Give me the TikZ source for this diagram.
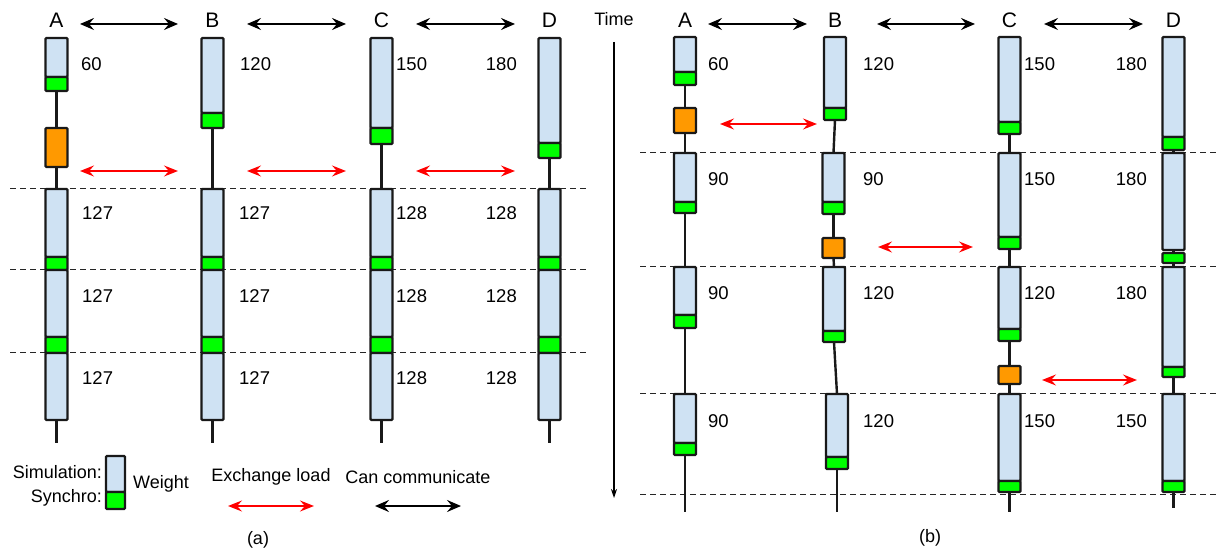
\documentclass[tikz,border=0pt]{standalone}
\usepackage{fontspec}
\setmainfont{Liberation Sans}
\usetikzlibrary{arrows.meta}
\definecolor{simfill}{HTML}{CFE2F3}
\definecolor{syncfill}{HTML}{00FF00}
\definecolor{exfill}{HTML}{FF9900}
\definecolor{exred}{HTML}{FF0000}
\tikzset{
 blk/.style={draw=black!90, line width=2.2pt, rounded corners=1pt, minimum width=22pt, inner sep=0pt, outer sep=0pt, anchor=north},
 sim/.style={blk, fill=simfill},
 syn/.style={blk, fill=syncfill},
 ex/.style={blk, fill=exfill},
 conn/.style={line width=2.4pt, black!90},
 sep/.style={dash pattern=on 6pt off 4pt, line width=1pt, black!85},
 comm/.style={line width=2pt, black, {Stealth[length=14pt,width=12pt,inset=5pt]}-{Stealth[length=14pt,width=12pt,inset=5pt]}},
 xch/.style={line width=1.8pt, exred, {Stealth[length=14pt,width=11pt,inset=5pt]}-{Stealth[length=14pt,width=11pt,inset=5pt]}},
 num/.style={font=\fontsize{18.5}{20}\selectfont, inner sep=0pt},
 proc/.style={font=\fontsize{21}{24}\selectfont, inner sep=0pt},
 leg/.style={font=\fontsize{18}{20}\selectfont, inner sep=0pt},
}
\newcommand\bx[5]{\node[#1, minimum height={#5-#4}] (#2) at (#3,#4) {};}
\begin{document}
\begin{tikzpicture}[x=1pt,y=-1pt]
\useasboundingbox (0,0) rectangle (1219,553);
% ---------------- (a) ----------------
\foreach \y in {189,270,353} \draw[sep] (10,\y) -- (587,\y);
% column A
\coordinate (aAend) at (56.5,443);
\coordinate (aBend) at (212.5,443);
\coordinate (aCend) at (381.5,443);
\coordinate (aDend) at (549.5,443);
\bx{sim}{aA1}{56.5}{38}{77}
\bx{syn}{aA1g}{56.5}{77}{91}
\bx{ex}{aAx}{56.5}{128}{167}
\bx{sim}{aA2}{56.5}{189}{257}
\bx{syn}{aA2g}{56.5}{257}{270}
\bx{sim}{aA3}{56.5}{270}{337}
\bx{syn}{aA3g}{56.5}{337}{353}
\bx{sim}{aA4}{56.5}{353}{420}
\draw[conn] (aA1g.south) -- (aAx.north);
\draw[conn] (aAx.south) -- (aA2.north);
\draw[conn] (aA4.south) -- (aAend);
% column B
\bx{sim}{aB1}{212.5}{38}{113}
\bx{syn}{aB1g}{212.5}{113}{128}
\bx{sim}{aB2}{212.5}{189}{257}
\bx{syn}{aB2g}{212.5}{257}{270}
\bx{sim}{aB3}{212.5}{270}{337}
\bx{syn}{aB3g}{212.5}{337}{353}
\bx{sim}{aB4}{212.5}{353}{420}
\draw[conn] (aB1g.south) -- (aB2.north);
\draw[conn] (aB4.south) -- (aBend);
% column C
\bx{sim}{aC1}{381.5}{38}{128}
\bx{syn}{aC1g}{381.5}{128}{144}
\bx{sim}{aC2}{381.5}{189}{257}
\bx{syn}{aC2g}{381.5}{257}{270}
\bx{sim}{aC3}{381.5}{270}{337}
\bx{syn}{aC3g}{381.5}{337}{353}
\bx{sim}{aC4}{381.5}{353}{420}
\draw[conn] (aC1g.south) -- (aC2.north);
\draw[conn] (aC4.south) -- (aCend);
% column D
\bx{sim}{aD1}{549.5}{38}{143}
\bx{syn}{aD1g}{549.5}{143}{158}
\bx{sim}{aD2}{549.5}{189}{257}
\bx{syn}{aD2g}{549.5}{257}{270}
\bx{sim}{aD3}{549.5}{270}{337}
\bx{syn}{aD3g}{549.5}{337}{353}
\bx{sim}{aD4}{549.5}{353}{420}
\draw[conn] (aD1g.south) -- (aD2.north);
\draw[conn] (aD4.south) -- (aDend);
% labels
\node[proc] (aLA) at (56.5,20) {A};
\node[proc] (aLB) at (212.5,20) {B};
\node[proc] (aLC) at (381.5,20) {C};
\node[proc] (aLD) at (549.5,20) {D};
\coordinate (ac1) at (80,24);  \coordinate (ac2) at (178,24);
\coordinate (ac3) at (247,24); \coordinate (ac4) at (346,24);
\coordinate (ac5) at (416,24); \coordinate (ac6) at (515,24);
\draw[comm] (ac1) -- (ac2); \draw[comm] (ac3) -- (ac4); \draw[comm] (ac5) -- (ac6);
\coordinate (ax1) at (80,171);  \coordinate (ax2) at (178,171);
\coordinate (ax3) at (247,171); \coordinate (ax4) at (346,171);
\coordinate (ax5) at (416,171); \coordinate (ax6) at (515,171);
\draw[xch] (ax1) -- (ax2); \draw[xch] (ax3) -- (ax4); \draw[xch] (ax5) -- (ax6);
\node[num, anchor=west] (aN1) at (81,64) {60};
\node[num, anchor=west] (aN2) at (240,64) {120};
\node[num, anchor=west] (aN3) at (396,64) {150};
\node[num, anchor=east] (aN4) at (517,64) {180};
\foreach \y [count=\i] in {213,296,378} {
  \node[num, anchor=west] (aNA\i) at (82,\y) {127};
  \node[num, anchor=west] (aNB\i) at (239,\y) {127};
  \node[num, anchor=west] (aNC\i) at (396,\y) {128};
  \node[num, anchor=east] (aND\i) at (517,\y) {128};
}
% legend
\node[sim, minimum width=19pt, minimum height=36pt] (lgS) at (115.5,456) {};
\node[syn, minimum width=19pt, minimum height=17pt] (lgG) at (115.5,492) {};
\node[leg, anchor=east] (lgT1) at (102,472) {Simulation:};
\node[leg, anchor=east] (lgT2) at (102,498) {Synchro:};
\node[leg, anchor=west] (lgT3) at (133,484) {Weight};
\node[leg] (lgT4) at (271,477) {Exchange load};
\node[leg] (lgT5) at (418,477) {Can communicate};
\coordinate (lx1) at (228,506); \coordinate (lx2) at (314,506);
\coordinate (lc1) at (375,506); \coordinate (lc2) at (461,506);
\draw[xch] (lx1) -- (lx2);
\draw[comm] (lc1) -- (lc2);
\node[leg] (capA) at (258,540) {(a)};
% ---------------- (b) ----------------
\foreach \y in {153,267,394,494} \draw[sep] (640,\y) -- (1219,\y);
\node[leg] (timeL) at (614,19) {Time};
\coordinate (t1) at (614,42); \coordinate (t2) at (614,498);
\draw[line width=1.1pt, -{Stealth[length=9pt,width=6pt,inset=3pt]}] (t1) -- (t2);
% column A
\coordinate (bAend) at (685,512);
\bx{sim}{bA1}{685}{37}{72}
\bx{syn}{bA1g}{685}{72}{85}
\bx{ex}{bAx}{685}{108}{133}
\bx{sim}{bA2}{685}{153}{202}
\bx{syn}{bA2g}{685}{202}{213}
\bx{sim}{bA3}{685}{267}{315}
\bx{syn}{bA3g}{685}{315}{328}
\bx{sim}{bA4}{685}{394}{443}
\bx{syn}{bA4g}{685}{443}{455}
\draw[conn] (bA1g.south) -- (bAx.north);
\draw[conn] (bAx.south) -- (bA2.north);
\draw[conn] (bA2g.south) -- (bA3.north);
\draw[conn] (bA3g.south) -- (bA4.north);
\draw[conn] (bA4g.south) -- (bAend);
% column B
\coordinate (bBend) at (837,512);
\bx{sim}{bB1}{835}{37}{108}
\bx{syn}{bB1g}{835}{108}{120}
\bx{sim}{bB2}{833.5}{153}{202}
\bx{syn}{bB2g}{833.5}{202}{214}
\bx{ex}{bBx}{833.5}{238}{258}
\bx{sim}{bB3}{834}{267}{331}
\bx{syn}{bB3g}{834}{331}{342}
\bx{sim}{bB4}{837}{394}{457}
\bx{syn}{bB4g}{837}{457}{469}
\draw[conn] (bB1g.south) -- (bB2.north);
\draw[conn] (bB2g.south) -- (bBx.north);
\draw[conn] (bBx.south) -- (bB3.north);
\draw[conn] (bB3g.south) -- (bB4.north);
\draw[conn] (bB4g.south) -- (bBend);
% column C
\coordinate (bCend) at (1009.5,512);
\bx{sim}{bC1}{1009.5}{37}{122}
\bx{syn}{bC1g}{1009.5}{122}{134}
\bx{sim}{bC2}{1009.5}{153}{237}
\bx{syn}{bC2g}{1009.5}{237}{249}
\bx{sim}{bC3}{1009.5}{267}{329}
\bx{syn}{bC3g}{1009.5}{329}{341}
\bx{ex}{bCx}{1009.5}{366}{384}
\bx{sim}{bC4}{1009.5}{394}{481}
\bx{syn}{bC4g}{1009.5}{481}{492}
\draw[conn] (bC1g.south) -- (bC2.north);
\draw[conn] (bC2g.south) -- (bC3.north);
\draw[conn] (bC3g.south) -- (bCx.north);
\draw[conn] (bCx.south) -- (bC4.north);
\draw[conn] (bC4g.south) -- (bCend);
% column D
\coordinate (bDend) at (1173.5,508);
\bx{sim}{bD1}{1173.5}{37}{137}
\bx{syn}{bD1g}{1173.5}{137}{150}
\bx{sim}{bD2}{1173.5}{153}{250}
\bx{syn}{bD2g}{1173.5}{253}{263}
\bx{sim}{bD3}{1173.5}{267}{367}
\bx{syn}{bD3g}{1173.5}{367}{377}
\bx{sim}{bD4}{1173.5}{394}{481}
\bx{syn}{bD4g}{1173.5}{481}{492}
\draw[conn] (bD1g.south) -- (bD2.north);
\draw[conn] (bD2.south) -- (bD2g.north);
\draw[conn] (bD2g.south) -- (bD3.north);
\draw[conn] (bD3g.south) -- (bD4.north);
\draw[conn] (bD4g.south) -- (bDend);
% labels
\node[proc] (bLA) at (685,20) {A};
\node[proc] (bLB) at (835,20) {B};
\node[proc] (bLC) at (1009.5,20) {C};
\node[proc] (bLD) at (1173.5,20) {D};
\coordinate (bc1) at (708,24);  \coordinate (bc2) at (807,24);
\coordinate (bc3) at (877,24);  \coordinate (bc4) at (975,24);
\coordinate (bc5) at (1044,24); \coordinate (bc6) at (1143,24);
\draw[comm] (bc1) -- (bc2); \draw[comm] (bc3) -- (bc4); \draw[comm] (bc5) -- (bc6);
\coordinate (bx1) at (720,124);  \coordinate (bx2) at (817,124);
\coordinate (bx3) at (878,247);  \coordinate (bx4) at (973,247);
\coordinate (bx5) at (1042,380); \coordinate (bx6) at (1137,380);
\draw[xch] (bx1) -- (bx2); \draw[xch] (bx3) -- (bx4); \draw[xch] (bx5) -- (bx6);
\node[num, anchor=west] (bNA1) at (708,64) {60};
\node[num, anchor=west] (bNA2) at (708,179) {90};
\node[num, anchor=west] (bNA3) at (708,293) {90};
\node[num, anchor=west] (bNA4) at (708,421) {90};
\node[num, anchor=west] (bNB1) at (863,64) {120};
\node[num, anchor=west] (bNB2) at (863,179) {90};
\node[num, anchor=west] (bNB3) at (863,293) {120};
\node[num, anchor=west] (bNB4) at (863,421) {120};
\node[num, anchor=west] (bNC1) at (1024,64) {150};
\node[num, anchor=west] (bNC2) at (1024,179) {150};
\node[num, anchor=west] (bNC3) at (1024,293) {120};
\node[num, anchor=west] (bNC4) at (1024,421) {150};
\node[num, anchor=east] (bND1) at (1147,64) {180};
\node[num, anchor=east] (bND2) at (1147,179) {180};
\node[num, anchor=east] (bND3) at (1147,293) {180};
\node[num, anchor=east] (bND4) at (1147,421) {150};
\node[leg] (capB) at (930,538) {(b)};
\end{tikzpicture}
\end{document}
